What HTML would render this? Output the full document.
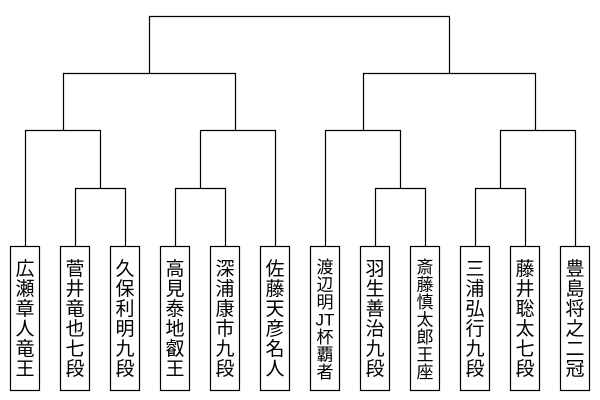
<!DOCTYPE html>
<html><head><meta charset="utf-8"><style>
html,body{margin:0;padding:0;background:#fff;}
svg{display:block;}
text{font-family:"Liberation Sans","Noto Sans CJK JP",sans-serif;font-size:19px;fill:#000;text-anchor:middle;}
text.s{font-size:17px;}
</style></head><body>
<svg width="600" height="400" viewBox="0 0 600 400" xmlns="http://www.w3.org/2000/svg">
<g fill="none" stroke="#000" stroke-width="1.2">
<path d="M149.5 73V16.5H449.5V73"/>
<path d="M63.5 130V73.5H235.5V130"/>
<path d="M363.5 130V73.5H535.5V130"/>
<path d="M25.5 246V130.5H100.5V188"/>
<path d="M75.5 246V188.5H125.5V246"/>
<path d="M200.5 188V130.5H275.5V246"/>
<path d="M175.5 246V188.5H225.5V246"/>
<path d="M325.5 246V130.5H400.5V188"/>
<path d="M375.5 246V188.5H425.5V246"/>
<path d="M500.5 188V130.5H575.5V246"/>
<path d="M475.5 246V188.5H525.5V246"/>
<rect x="10.5" y="246.5" width="29" height="144"/>
<rect x="60.5" y="246.5" width="29" height="144"/>
<rect x="110.5" y="246.5" width="29" height="144"/>
<rect x="160.5" y="246.5" width="29" height="144"/>
<rect x="210.5" y="246.5" width="29" height="144"/>
<rect x="260.5" y="246.5" width="29" height="144"/>
<rect x="310.5" y="246.5" width="29" height="144"/>
<rect x="360.5" y="246.5" width="29" height="144"/>
<rect x="410.5" y="246.5" width="29" height="144"/>
<rect x="460.5" y="246.5" width="29" height="144"/>
<rect x="510.5" y="246.5" width="29" height="144"/>
<rect x="560.5" y="246.5" width="29" height="144"/>
</g>
<g>
<text x="25" y="275">広</text><text x="25" y="295">瀬</text><text x="25" y="315">章</text><text x="25" y="335">人</text><text x="25" y="355">竜</text><text x="25" y="375">王</text>
<text x="75" y="275">菅</text><text x="75" y="295">井</text><text x="75" y="315">竜</text><text x="75" y="335">也</text><text x="75" y="355">七</text><text x="75" y="375">段</text>
<text x="125" y="275">久</text><text x="125" y="295">保</text><text x="125" y="315">利</text><text x="125" y="335">明</text><text x="125" y="355">九</text><text x="125" y="375">段</text>
<text x="175" y="275">高</text><text x="175" y="295">見</text><text x="175" y="315">泰</text><text x="175" y="335">地</text><text x="175" y="355">叡</text><text x="175" y="375">王</text>
<text x="225" y="275">深</text><text x="225" y="295">浦</text><text x="225" y="315">康</text><text x="225" y="335">市</text><text x="225" y="355">九</text><text x="225" y="375">段</text>
<text x="275" y="275">佐</text><text x="275" y="295">藤</text><text x="275" y="315">天</text><text x="275" y="335">彦</text><text x="275" y="355">名</text><text x="275" y="375">人</text>
<text class="s" x="325" y="273">渡</text><text class="s" x="325" y="290.5">辺</text><text class="s" x="325" y="308">明</text><text class="s" x="325" y="325.5">JT</text><text class="s" x="325" y="343">杯</text><text class="s" x="325" y="360.5">覇</text><text class="s" x="325" y="378">者</text>
<text x="375" y="275">羽</text><text x="375" y="295">生</text><text x="375" y="315">善</text><text x="375" y="335">治</text><text x="375" y="355">九</text><text x="375" y="375">段</text>
<text class="s" x="425" y="273">斎</text><text class="s" x="425" y="290.5">藤</text><text class="s" x="425" y="308">慎</text><text class="s" x="425" y="325.5">太</text><text class="s" x="425" y="343">郎</text><text class="s" x="425" y="360.5">王</text><text class="s" x="425" y="378">座</text>
<text x="475" y="275">三</text><text x="475" y="295">浦</text><text x="475" y="315">弘</text><text x="475" y="335">行</text><text x="475" y="355">九</text><text x="475" y="375">段</text>
<text x="525" y="275">藤</text><text x="525" y="295">井</text><text x="525" y="315">聡</text><text x="525" y="335">太</text><text x="525" y="355">七</text><text x="525" y="375">段</text>
<text x="575" y="275">豊</text><text x="575" y="295">島</text><text x="575" y="315">将</text><text x="575" y="335">之</text><text x="575" y="355">二</text><text x="575" y="375">冠</text>
</g>
</svg>
</body></html>
